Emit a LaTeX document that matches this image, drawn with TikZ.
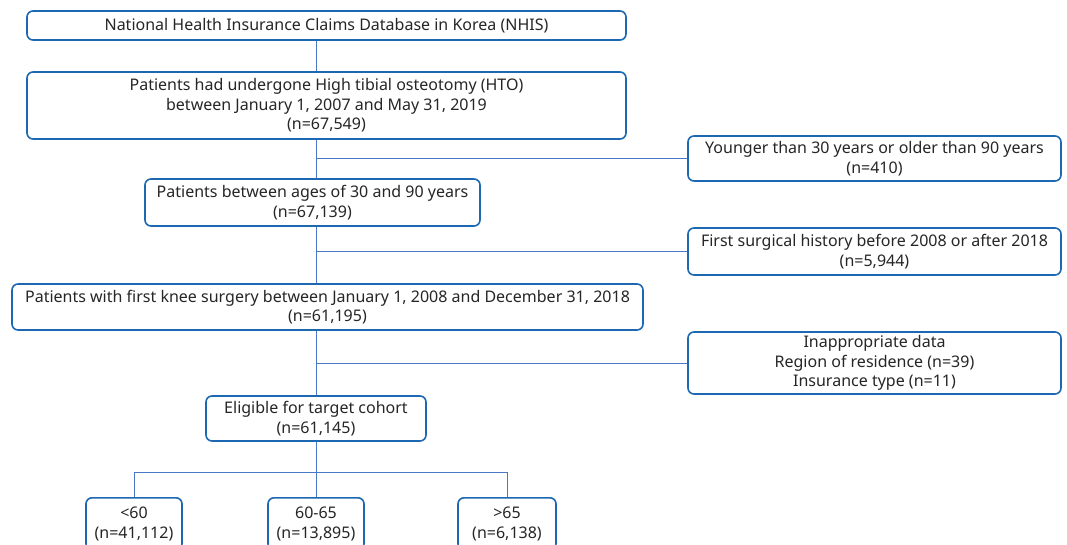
\documentclass[tikz,border=0pt]{standalone}
\usepackage{fontspec}
\setmainfont{Noto Sans}
\definecolor{boxblue}{RGB}{28,104,178}
\definecolor{lineblue}{RGB}{74,120,196}
\begin{document}
\begin{tikzpicture}[x=1pt,y=-1pt,
  box/.style={draw=boxblue, line width=1.6pt, rounded corners=6pt, align=center,
    inner sep=0pt, font=\fontsize{16}{19.5}\selectfont, text=black!85},
  conn/.style={draw=lineblue, line width=0.9pt}]
\useasboundingbox (0,0) rectangle (1067,545);
\fill[white] (0,0) rectangle (1067,545);
\node[box, minimum width=599pt, minimum height=29pt] (b1) at (326.5,25.5)
  {National Health Insurance Claims Database in Korea (NHIS)};
\node[box, minimum width=599pt, minimum height=67pt] (b2) at (326.5,105.5)
  {Patients had undergone High tibial osteotomy (HTO)\\between January 1, 2007 and May 31, 2019\\(n=67,549)};
\node[box, minimum width=373pt, minimum height=45pt] (s1) at (874.5,158.5)
  {Younger than 30 years or older than 90 years\\(n=410)};
\node[box, minimum width=335pt, minimum height=47pt] (b3) at (312.5,202.5)
  {Patients between ages of 30 and 90 years\\(n=67,139)};
\node[box, minimum width=373pt, minimum height=47pt] (s2) at (874.5,251.5)
  {First surgical history before 2008 or after 2018\\(n=5,944)};
\node[box, minimum width=631pt, minimum height=46pt] (b4) at (327.5,307)
  {Patients with first knee surgery between January 1, 2008 and December 31, 2018\\(n=61,195)};
\node[box, minimum width=373pt, minimum height=62pt] (s3) at (874.5,363)
  {Inappropriate data\\Region of residence (n=39)\\Insurance type (n=11)};
\node[box, minimum width=220pt, minimum height=45pt] (b5) at (316,418.5)
  {Eligible for target cohort\\(n=61,145)};
\node[box, minimum width=96pt, minimum height=52pt, anchor=north] (c1) at (134,497)
  {<60\\(n=41,112)};
\node[box, minimum width=96pt, minimum height=52pt, anchor=north] (c2) at (316,497)
  {60-65\\(n=13,895)};
\node[box, minimum width=98pt, minimum height=52pt, anchor=north] (c3) at (507,497)
  {>65\\(n=6,138)};
\coordinate (br) at (316,472);
\draw[conn] (b1.south -| b5) -- (b2.north -| b5);
\draw[conn] (b2.south -| b5) -- (b3.north -| b5);
\draw[conn] (b3.south -| b5) -- (b4.north -| b5);
\draw[conn] (b4.south -| b5) -- (b5.north);
\draw[conn] (b5.south) -- (c2.north);
\draw[conn] (c1.north) -- (c1.north |- br) -- (c3.north |- br) -- (c3.north);
\draw[conn] (s1.west) -- (s1.west -| b5);
\draw[conn] (s2.west) -- (s2.west -| b5);
\draw[conn] (s3.west) -- (s3.west -| b5);
\end{tikzpicture}
\end{document}
